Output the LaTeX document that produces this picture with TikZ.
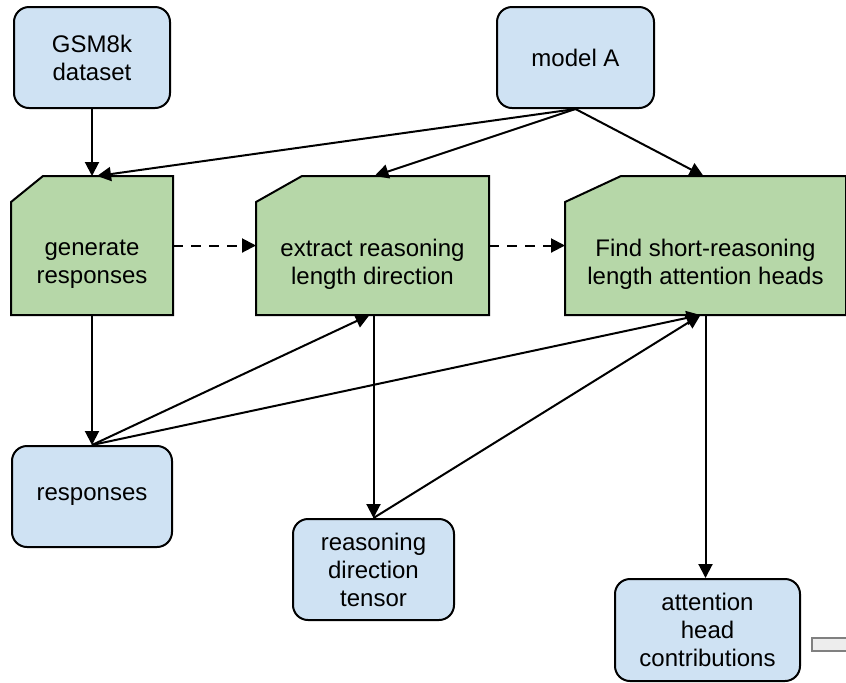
\documentclass[tikz,border=0pt]{standalone}
\usepackage{fontspec}
\setmainfont{Liberation Sans}
\usetikzlibrary{arrows.meta}
\definecolor{boxblue}{HTML}{CFE2F3}
\definecolor{cardgreen}{HTML}{B6D7A8}
\tikzset{
    item/.style={draw, rounded corners=7.5pt, fill=boxblue, align=center, minimum height=50.5pt, inner sep=0pt},
    card/.style={minimum height=68.5pt, inner sep=0pt,
        append after command={\pgfextra{\draw[fill=cardgreen]
            ([yshift=-13pt]\tikzlastnode.north west) -- ([xshift=#1]\tikzlastnode.north west)
            -- (\tikzlastnode.north east) -- (\tikzlastnode.south east)
            -- (\tikzlastnode.south west) -- cycle;}}},
    cardtext/.style={yshift=-9.5pt, align=center},
    link/.style={->},
    flow/.style={->, dash pattern=on 5pt off 4pt},
}

\begin{document}
\begin{tikzpicture}[x=0.5pt, y=-0.5pt, >={Triangle[length=7pt, width=7pt]}, line width=1pt, font=\fontsize{12}{14}\selectfont]
\useasboundingbox (0,0) rectangle (846,682);

\node[item, minimum width=78pt] (gsm) at (92,57.5) {GSM8k\\dataset};
\node[item, minimum width=78.5pt] (model) at (575.5,57.5) {model A};

\node[card=16pt, minimum width=80pt,
    label={[cardtext]center:generate\\responses}] (gen) at (92,245.5) {};
\node[card=23pt, minimum width=115.5pt,
    label={[cardtext]center:extract reasoning\\length direction}] (extract) at (372.5,245.5) {};
\node[card=28pt, minimum width=139.5pt,
    label={[cardtext]center:Find short-reasoning\\length attention heads}] (find) at (705.5,245.5) {};

\node[item, minimum width=80pt] (resp) at (92,496.5) {responses};
\node[item, minimum width=80.5pt] (tensor) at (373.5,569.5) {reasoning\\direction\\tensor};
\node[item, minimum width=92.5pt, minimum height=51pt] (att) at (707.5,630) {attention\\head\\contributions};

\draw[line width=0.6pt, draw=gray, fill=black!7] (812,638) rectangle (852,651);

\draw[link] (gsm) -- (gen);
\draw[link] (model.south) -- ([xshift=2.5pt]gen.north);
\draw[link] (model.south) -- ([xshift=1pt]extract.north);
\draw[link] (model.south) -- ([xshift=-1pt]find.north);
\draw[flow] (gen.east) -- (extract.west);
\draw[flow] (extract.east) -- (find.west);
\draw[link] (gen) -- (resp);
\draw[link] (resp.north) -- ([xshift=-1.5pt]extract.south);
\draw[link] (resp.north) -- ([xshift=-2.5pt]find.south);
\draw[link] (extract.south -| tensor.north) -- (tensor.north);
\draw[link] (tensor.north) -- ([xshift=-2.5pt]find.south);
\draw[link] (find.south) -- (find.south |- att.north);

\end{tikzpicture}
\end{document}
